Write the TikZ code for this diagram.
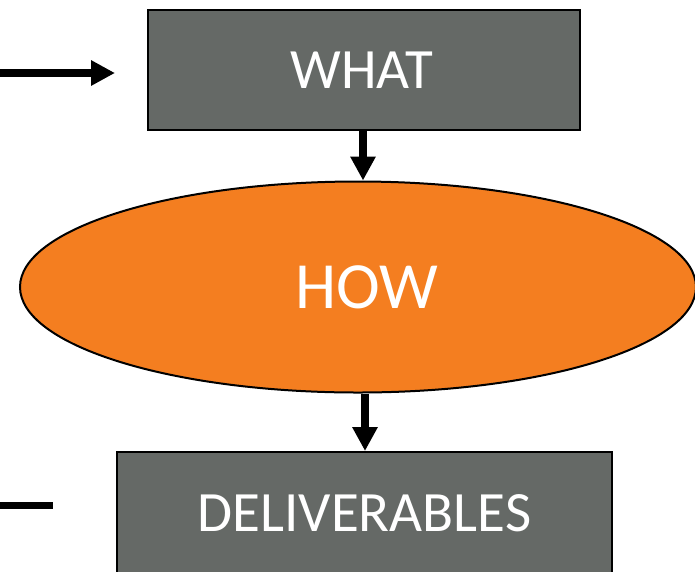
\documentclass[tikz,border=0pt]{standalone}
\usepackage{fontspec}
\setmainfont{Carlito}
\usetikzlibrary{arrows.meta,shapes.geometric}
\definecolor{boxgrey}{HTML}{656966}
\definecolor{howorange}{HTML}{F47E20}
\tikzset{
  greybox/.style={draw=black, line width=2pt, fill=boxgrey, text=white,
    rectangle, inner sep=0pt, font=\fontsize{57}{60}\selectfont},
  howshape/.style={draw=black, line width=2pt, fill=howorange, text=white,
    ellipse, inner sep=0pt, font=\fontsize{66}{70}\selectfont},
  flow/.style={line width=8pt, -{Triangle[length=24pt,width=24pt]}},
  stub/.style={line width=7pt}
}
\begin{document}
\begin{tikzpicture}[x=1pt,y=-1pt]
  \useasboundingbox (0,0) rectangle (695,571);
  % boxes and the central ellipse
  \node[greybox, minimum width=432pt, minimum height=120pt] (what) at (364,70) {\kern-4pt WHAT};
  \node[howshape, minimum width=676pt, minimum height=211pt] (how) at (358,287) {\kern18pt HOW};
  \node[greybox, minimum width=495pt, minimum height=122pt, anchor=north] (deliv) at (364.5,451) {DELIVERABLES};
  % free ends of the side lines
  \coordinate (inA) at (0,73);
  \coordinate (inB) at (115,73);
  \coordinate (outA) at (0,505.5);
  \coordinate (outB) at (53,505.5);
  % connectors
  \draw[flow] (inA) -- (inB);
  \draw[flow] (what.south -| 363,0) -- (how.north -| 363,0);
  \draw[flow] (how.south -| 365,0) -- (deliv.north -| 365,0);
  \draw[stub] (outA) -- (outB);
\end{tikzpicture}
\end{document}
